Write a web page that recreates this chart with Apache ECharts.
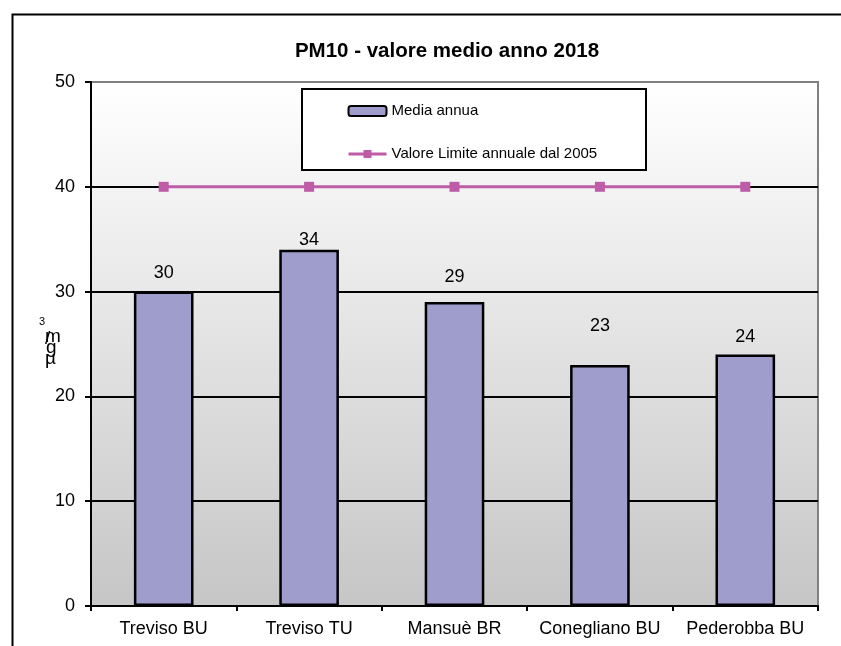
<!DOCTYPE html>
<html>
<head>
<meta charset="utf-8">
<script src="https://cdn.jsdelivr.net/npm/echarts@6/dist/echarts.min.js"></script>
<style>
html,body{margin:0;padding:0;background:#fff;}
#chart{width:841px;height:646px;}
</style>
</head>
<body>
<div id="chart"></div>
<script>
const categories = ['Treviso BU', 'Treviso TU', 'Mansuè BR', 'Conegliano BU', 'Pederobba BU'];
const mediaAnnua = [30, 34, 29, 23, 24];
const valoreLimite = [40, 40, 40, 40, 40];
const yTicks = [0, 10, 20, 30, 40, 50];

const labelGaps = [10, 1, 16, 30, 8];

const chart = echarts.init(document.getElementById('chart'), null, {renderer: 'canvas'});
const FONT = 'Liberation Sans, Arial, sans-serif';

const option = {
  animation: false,
  backgroundColor: '#ffffff',
  title: {
    text: 'PM10 - valore medio anno 2018',
    left: 442, top: 36, textAlign: 'center',
    textStyle: {fontFamily: FONT, fontSize: 20.5, fontWeight: 'bold', color: '#000'}
  },
  grid: {
    left: 91, top: 82, right: 23, bottom: 40,
    show: true,
    borderColor: '#808080', borderWidth: 2,
    backgroundColor: new echarts.graphic.LinearGradient(0, 0, 0, 1, [
      {offset: 0, color: '#ffffff'},
      {offset: 1, color: '#c6c6c6'}
    ])
  },
  legend: {
    orient: 'vertical',
    left: 347, top: 103,
    itemWidth: 38, itemHeight: 10,
    itemGap: 27,
    padding: 0,
    z: 20,
    textStyle: {fontFamily: FONT, fontSize: 15, color: '#000', lineHeight: 16},
    data: [
      {name: 'Media annua'},
      {name: 'Valore Limite annuale dal 2005', lineStyle: {width: 3, color: '#bf5ca8'}}
    ]
  },
  xAxis: {
    type: 'category',
    data: categories,
    boundaryGap: true,
    axisLine: {lineStyle: {color: '#000', width: 2}},
    axisTick: {show: true, length: 5, lineStyle: {color: '#000', width: 2}},
    axisLabel: {fontFamily: FONT, fontSize: 18, color: '#000', margin: 14, interval: 0}
  },
  yAxis: {
    type: 'value',
    min: yTicks[0], max: yTicks[yTicks.length - 1], interval: 10,
    axisLine: {show: true, lineStyle: {color: '#000', width: 2}},
    axisTick: {show: true, length: 6, lineStyle: {color: '#000', width: 2}},
    axisLabel: {fontFamily: FONT, fontSize: 18, color: '#000', margin: 16},
    splitLine: {show: true, lineStyle: {color: ['#000', '#000', '#000', '#000', '#000', '#808080'], width: 2}}
  },
  series: [
    {
      name: 'Media annua',
      type: 'bar',
      data: mediaAnnua.map((v, i) => ({
        value: v,
        label: {distance: labelGaps[i]}
      })),
      barWidth: '41%',
      itemStyle: {color: '#9f9dcc', borderColor: '#000', borderWidth: 2.5},
      label: {
        show: true, position: 'top',
        fontFamily: FONT, fontSize: 18, color: '#000'
      },
      z: 2
    },
    {
      name: 'Valore Limite annuale dal 2005',
      type: 'line',
      data: valoreLimite,
      symbol: 'rect',
      symbolSize: 10,
      lineStyle: {color: '#bf5ca8', width: 3},
      itemStyle: {color: '#bf5ca8'},
      z: 3
    }
  ],
  graphic: [
    {
      type: 'rect', left: 10, top: 12, z: -10, silent: true,
      shape: {width: 900, height: 700},
      style: {fill: 'none', stroke: '#000', lineWidth: 2}
    },
    {
      type: 'rect', left: 301, top: 88, z: 4, silent: true,
      shape: {width: 344, height: 81},
      style: {fill: '#fff', stroke: '#000', lineWidth: 2}
    },
    {type: 'text', left: 39, top: 316, z: 60, style: {text: '3', fontFamily: FONT, fontSize: 11, fill: '#000'}},
    {type: 'text', left: 45, top: 327, z: 60, style: {text: 'm', fontFamily: FONT, fontSize: 19, fill: '#000'}},
    {type: 'text', left: 45, top: 329, z: 60, style: {text: '/', fontFamily: FONT, fontSize: 19, fill: '#000'}},
    {type: 'text', left: 46, top: 338, z: 60, style: {text: 'g', fontFamily: FONT, fontSize: 19, fill: '#000'}},
    {type: 'text', left: 45, top: 349, z: 60, style: {text: 'µ', fontFamily: FONT, fontSize: 19, fill: '#000'}}
  ]
};
chart.setOption(option);
</script>
</body>
</html>
